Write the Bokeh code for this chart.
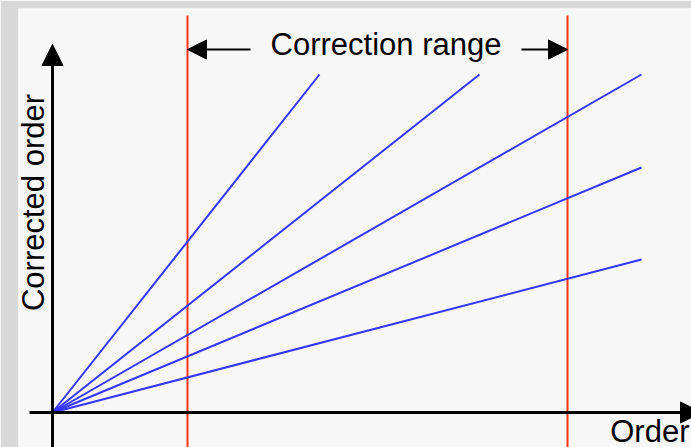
from bokeh.plotting import figure
from bokeh.models import Arrow, NormalHead, Range1d, ColumnDataSource
from bokeh.core.properties import value
from bokeh.embed import file_html
from bokeh.resources import INLINE
import math

# ---- data (diagram units, origin at 0,0) ----
line_order_end = [2.67, 4.27, 5.89, 5.89, 5.89]
line_corrected_end = [3.38, 3.38, 3.38, 2.45, 1.53]
correction_range = [1.35, 5.15]
x_axis_extent = [-0.23, 6.49]
y_axis_extent = [-0.40, 3.68]
range_line_top = 3.97
range_arrow_y = 3.63
range_arrow_tail = [1.98, 4.69]
title_text = "Correction range"
x_label = "Order"
y_label = "Corrected order"

FONT = "Liberation Sans"
BLUE = "#3535ff"
RED = "#ff3412"

p = figure(width=691, height=447, output_backend="svg", toolbar_location=None,
           x_axis_type=None, y_axis_type=None,
           x_range=Range1d(-0.34, 6.39), y_range=Range1d(-0.35, 4.04),
           min_border_left=18, min_border_right=0, min_border_top=8, min_border_bottom=0,
           background_fill_color="#f7f7f7", border_fill_color="#d8d8d8",
           outline_line_color=None)
p.grid.visible = False

# correction range boundaries
p.segment(x0=correction_range, y0=[-0.5, -0.5], x1=correction_range,
          y1=[range_line_top] * 2, line_color=RED, line_width=2)

# blue lines from origin
src = ColumnDataSource(dict(x0=[0.0] * len(line_order_end), y0=[0.0] * len(line_order_end),
                            x1=line_order_end, y1=line_corrected_end))
p.segment(x0="x0", y0="y0", x1="x1", y1="y1", source=src, line_color=BLUE, line_width=2)

# axes as arrows
p.add_layout(Arrow(x_start=x_axis_extent[0], y_start=0, x_end=x_axis_extent[1], y_end=0,
                   line_width=3, line_color="black",
                   end=NormalHead(size=21, fill_color="black", line_color="black", line_width=1)))
p.add_layout(Arrow(x_start=0, y_start=y_axis_extent[0], x_end=0, y_end=y_axis_extent[1],
                   line_width=3, line_color="black",
                   end=NormalHead(size=21, fill_color="black", line_color="black", line_width=1)))

# correction range arrows
p.add_layout(Arrow(x_start=range_arrow_tail[0], y_start=range_arrow_y,
                   x_end=correction_range[0], y_end=range_arrow_y,
                   line_width=2, line_color="black",
                   end=NormalHead(size=19, fill_color="black", line_color="black", line_width=1)))
p.add_layout(Arrow(x_start=range_arrow_tail[1], y_start=range_arrow_y,
                   x_end=correction_range[1], y_end=range_arrow_y,
                   line_width=2, line_color="black",
                   end=NormalHead(size=19, fill_color="black", line_color="black", line_width=1)))

# texts
p.text(x=[(range_arrow_tail[0] + range_arrow_tail[1]) / 2], y=[3.68], text=[title_text],
       text_font=value(FONT), text_font_size=value("31px"), text_color="black",
       text_align="center", text_baseline="middle")
p.text(x=[6.37], y=[-0.185], text=[x_label],
       text_font=value(FONT), text_font_size=value("31px"), text_color="black",
       text_align="right", text_baseline="middle")
p.text(x=[-0.195], y=[2.10], text=[y_label], angle=math.pi / 2,
       text_font=value(FONT), text_font_size=value("31px"), text_color="black",
       text_align="center", text_baseline="middle")

open("out.html", "w").write(file_html(p, INLINE))
